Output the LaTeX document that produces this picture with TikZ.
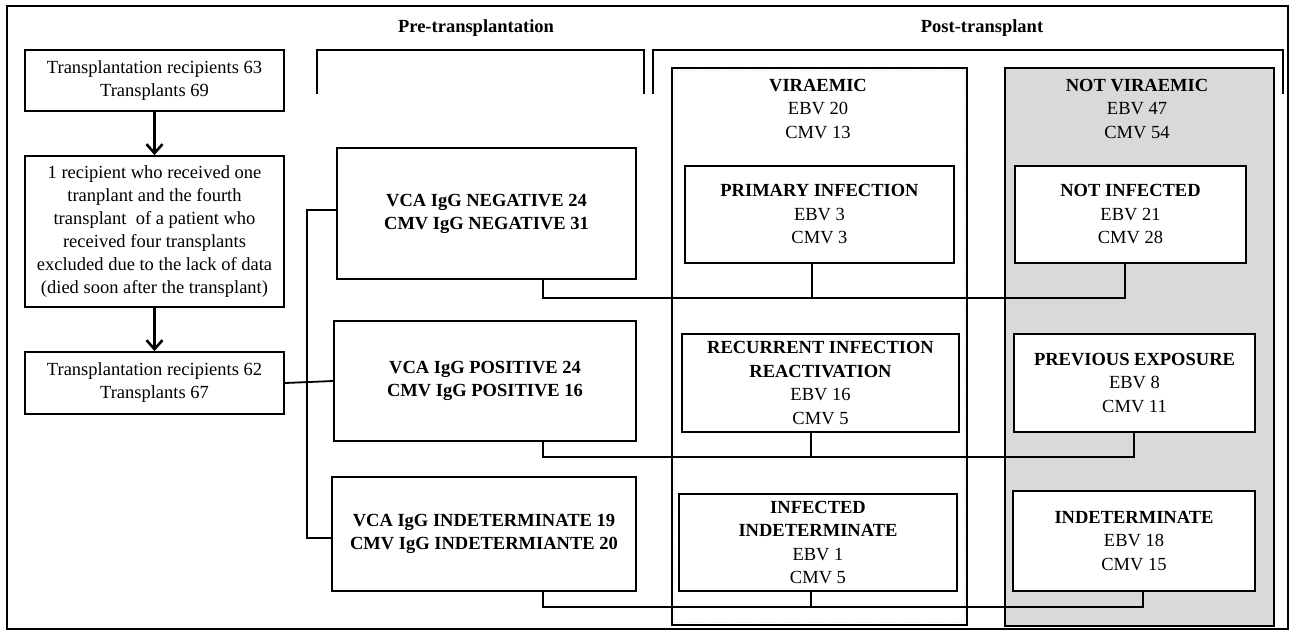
\documentclass[tikz,border=0pt]{standalone}
\usepackage{fontspec}
\setmainfont{Liberation Serif}
\usetikzlibrary{arrows.meta}
\tikzset{
  lbox/.style={draw, line width=1.8pt, align=center, inner sep=0pt, font=\fontsize{18.5}{23}\selectfont},
  pbox/.style={draw, line width=1.8pt, align=center, inner sep=0pt, fill=white, font=\fontsize{18.5}{23}\selectfont\bfseries},
  tbox/.style={draw, line width=1.8pt, align=center, inner sep=0pt, fill=white, font=\fontsize{18.5}{23.5}\selectfont},
  bigbox/.style={draw, line width=1.8pt},
  conn/.style={line width=1.8pt},
  flow/.style={line width=2.6pt, -{Straight Barb[length=9pt,width=16pt,line width=2.6pt]}},
  title/.style={font=\fontsize{18.5}{22}\selectfont\bfseries},
  bracket/.style={line width=1.8pt}
}
\begin{document}
\begin{tikzpicture}[x=1pt,y=-1pt]
\fill[white] (0,0) rectangle (1292,633);
\useasboundingbox (0,0) rectangle (1292,633);
\draw[line width=1.5pt] (7,6) rectangle (1288,629);

% titles and brackets
\node[title] (pre) at (476,28) {Pre-transplantation};
\node[title] (post) at (982,28) {Post-transplant};
\draw[bracket] (317,94) -- (317,50) -- (644,50) -- (644,94);
\draw[bracket] (653,94) -- (653,50) -- (1283,50) -- (1283,94);

% left column
\node[lbox, minimum width=259pt, minimum height=61pt] (b1) at (154.5,80.5)
  {Transplantation recipients 63\\Transplants 69};
\node[lbox, minimum width=259pt, minimum height=151pt] (b2) at (154.5,231.5)
  {1 recipient who received one\\tranplant and the fourth\\transplant\ \ of a patient who\\received four transplants\\excluded due to the lack of data\\(died soon after the transplant)};
\node[lbox, minimum width=259pt, minimum height=62pt] (b3) at (154.5,383)
  {Transplantation recipients 62\\Transplants 67};
\draw[flow] (b1.south) -- (b2.north);
\draw[flow] (b2.south) -- (b3.north);

% pre-transplantation boxes
\node[pbox, minimum width=299pt, minimum height=131pt] (neg) at (486.5,213.5)
  {VCA IgG NEGATIVE 24\\CMV IgG NEGATIVE 31};
\node[pbox, minimum width=302pt, minimum height=120pt] (pos) at (485,381)
  {VCA IgG POSITIVE 24\\CMV IgG POSITIVE 16};
\node[pbox, minimum width=304pt, minimum height=114pt] (ind) at (484,534)
  {VCA IgG INDETERMINATE 19\\CMV IgG INDETERMIANTE 20};

% trunk
\coordinate (t1) at (307,210);
\coordinate (t2) at (307,538);
\draw[conn] (b3.east) -- (pos.west);
\draw[conn] (neg.west |- t1) -- (t1) -- (t2) -- (ind.west |- t2);

% post-transplant big boxes
\node[bigbox, fill=white, minimum width=295pt, minimum height=557pt] (vir) at (819.5,346.5) {};
\draw[gray!25, line width=1pt, dotted] ([shift={(3,3)}]vir.north west) rectangle ([shift={(-3,-3)}]vir.south east);
\node[bigbox, fill=gray!30, minimum width=269pt, minimum height=558pt] (nvir) at (1139.5,347) {};
\node[align=center, font=\fontsize{18.5}{23.5}\selectfont] (virt) at (818,109)
  {\textbf{VIRAEMIC}\\EBV 20\\CMV 13};
\node[align=center, font=\fontsize{18.5}{23.5}\selectfont] (nvirt) at (1137,109)
  {\textbf{NOT VIRAEMIC}\\EBV 47\\CMV 54};

% inner boxes
\node[tbox, minimum width=269pt, minimum height=97pt] (prim) at (819.5,214.5)
  {\textbf{PRIMARY INFECTION}\\EBV 3\\CMV 3};
\node[tbox, minimum width=231pt, minimum height=97pt] (ninf) at (1130.5,214.5)
  {\textbf{NOT INFECTED}\\EBV 21\\CMV 28};
\node[tbox, minimum width=277pt, minimum height=98pt] (rec) at (820.5,383)
  {\textbf{RECURRENT INFECTION}\\\textbf{REACTIVATION}\\EBV 16\\CMV 5};
\node[tbox, minimum width=241pt, minimum height=98pt] (prev) at (1134.5,383)
  {\textbf{PREVIOUS EXPOSURE}\\EBV 8\\CMV 11};
\node[tbox, minimum width=278pt, minimum height=97pt] (iind) at (818,542.5)
  {\textbf{INFECTED}\\\textbf{INDETERMINATE}\\EBV 1\\CMV 5};
\node[tbox, minimum width=242pt, minimum height=100pt] (indt) at (1134,541)
  {\textbf{INDETERMINATE}\\EBV 18\\CMV 15};

% connectors pre -> post
\coordinate (j1) at (543,298); \coordinate (m1) at (812,298); \coordinate (k1) at (1125,298);
\coordinate (j2) at (543,457); \coordinate (m2) at (811,457); \coordinate (k2) at (1134,457);
\coordinate (j3) at (543,607); \coordinate (m3) at (811,607); \coordinate (k3) at (1143,607);
\draw[conn] (neg.south -| j1) -- (j1) -- (k1) -- (k1 |- ninf.south);
\draw[conn] (prim.south -| m1) -- (m1);
\draw[conn] (pos.south -| j2) -- (j2) -- (k2) -- (k2 |- prev.south);
\draw[conn] (rec.south -| m2) -- (m2);
\draw[conn] (ind.south -| j3) -- (j3) -- (k3) -- (k3 |- indt.south);
\draw[conn] (iind.south -| m3) -- (m3);
\end{tikzpicture}
\end{document}
